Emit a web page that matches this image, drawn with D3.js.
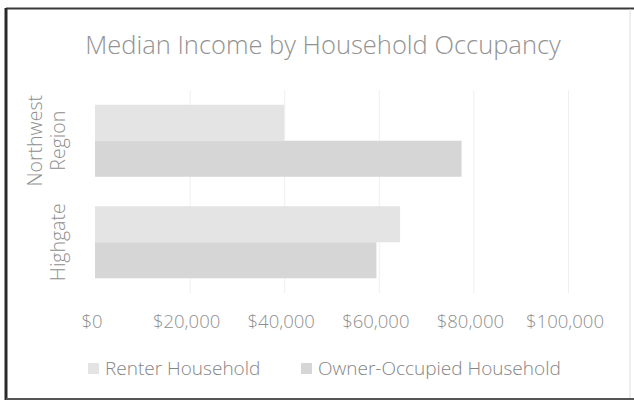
<!DOCTYPE html>
<html>
<head>
<meta charset="utf-8">
<script src="https://cdn.jsdelivr.net/npm/d3@7"></script>
<style>
body{margin:0;background:#fff;}
text{font-family:"Open Sans",sans-serif;}
</style>
</head>
<body>
<svg id="chart"></svg>
<script>
// chart values
var categories=["Northwest Region","Highgate"]
var series=["Renter Household","Owner-Occupied Household"]
var renter=[40000,64500]
var owner=[77500,59500]
var tickValues=[0,20000,40000,60000,80000,100000]
var title="Median Income by Household Occupancy"

var screen={width:634,height:402}
var plot={left:95,right:568,top:90,bottom:293}
var colors=["#e4e4e4","#d6d6d6"]

var svg=d3.select("#chart")
  .attr("width",screen.width)
  .attr("height",screen.height)

// frame
svg.append("rect").attr("x",6).attr("y",8).attr("width",624).attr("height",390)
  .style("fill","#fff").style("stroke","none")
svg.append("line").attr("x1",6).attr("x2",634).attr("y1",8.5).attr("y2",8.5)
  .style("stroke","#3a3a3a").style("stroke-width",2)
svg.append("line").attr("x1",6).attr("x2",6).attr("y1",8).attr("y2",400)
  .style("stroke","#2a2a2a").style("stroke-width",3)
svg.append("line").attr("x1",6).attr("x2",634).attr("y1",399).attr("y2",399)
  .style("stroke","#555").style("stroke-width",2)
svg.append("line").attr("x1",630).attr("x2",630).attr("y1",9).attr("y2",398)
  .style("stroke","#ddd").style("stroke-width",1)

var x=d3.scaleLinear().domain([0,100000]).range([plot.left,plot.right])
var y=d3.scaleBand().domain(categories).range([plot.top,plot.bottom])
  .paddingInner(0.29).paddingOuter(0.145)
var ySub=d3.scaleBand().domain(series).range([0,y.bandwidth()])

// gridlines
svg.append("g").selectAll("line").data(tickValues.slice(1)).enter()
  .append("line")
  .attr("x1",function(d){return x(d)+0.5})
  .attr("x2",function(d){return x(d)+0.5})
  .attr("y1",plot.top).attr("y2",plot.bottom)
  .style("stroke","#efefef")

// bars
var rows=categories.map(function(c,i){return {cat:c,values:[renter[i],owner[i]]}})
var groups=svg.append("g").selectAll("g").data(rows).enter()
  .append("g").attr("transform",function(d){return "translate(0,"+y(d.cat)+")"})
groups.selectAll("rect").data(function(d){return d.values}).enter()
  .append("rect")
  .attr("x",x(0))
  .attr("y",function(d,i){return ySub(series[i])})
  .attr("width",function(d){return x(d)-x(0)})
  .attr("height",ySub.bandwidth())
  .style("fill",function(d,i){return colors[i]})

// x axis labels
var fmt=d3.format("$,")
svg.append("g").selectAll("text").data(tickValues).enter()
  .append("text")
  .attr("x",function(d){return x(d)-3})
  .attr("y",328)
  .attr("text-anchor","middle")
  .style("font-size","18.5px").style("font-weight",300)
  .style("fill","#8f8f8f")
  .text(function(d){return fmt(d)})

// category labels
var catLines=[["Northwest","Region"],["Highgate"]]
categories.forEach(function(c,i){
  var cy=y(c)+y.bandwidth()/2
  var lines=catLines[i]
  lines.forEach(function(l,j){
    var bx=65-(lines.length-1-j)*23
    svg.append("text")
      .attr("transform","translate("+bx+","+cy+") rotate(-90)")
      .attr("text-anchor","middle")
      .style("font-size","19.5px").style("font-weight",300)
      .style("fill","#8f8f8f")
      .text(l)
  })
})

// title
svg.append("text").attr("x",323).attr("y",54).attr("text-anchor","middle")
  .style("font-size","25.5px").style("font-weight",300)
  .style("fill","#929292").text(title)

// legend
var legendX=[88,301]
var legend=svg.append("g").selectAll("g").data(series).enter()
  .append("g").attr("transform",function(d,i){return "translate("+legendX[i]+",363)"})
legend.append("rect").attr("width",11).attr("height",11)
  .style("fill",function(d,i){return colors[i]})
legend.append("text").attr("x",17).attr("y",12)
  .style("font-size","19px").style("font-weight",300)
  .style("fill","#858585")
  .text(function(d){return d})
</script>
</body>
</html>
